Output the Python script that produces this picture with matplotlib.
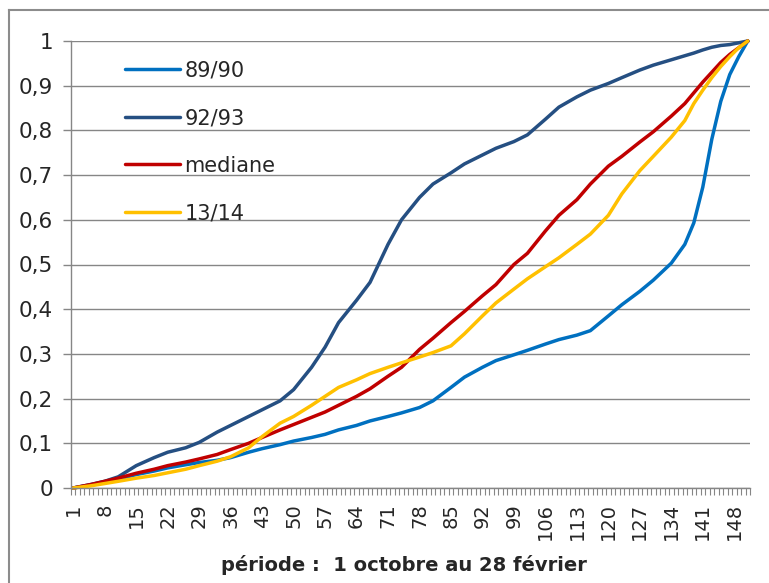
import numpy as np
import matplotlib
matplotlib.use('Agg')
import matplotlib.pyplot as plt
from matplotlib.lines import Line2D

# days of the season (1 = 1 October, 151 = 28 February)
days = [1, 5, 8, 11, 15, 19, 22, 26, 29, 33, 36, 40, 43, 47, 50, 54, 57, 60, 64, 67,
        71, 74, 78, 81, 85, 88, 92, 95, 99, 102, 106, 109, 113, 116, 120, 123, 127, 130,
        134, 137, 139, 141, 143, 145, 147, 149, 151]

s_8990 = [0.0, 0.007, 0.014, 0.02, 0.03, 0.038, 0.045, 0.052, 0.057, 0.062, 0.068, 0.08,
          0.088, 0.097, 0.105, 0.113, 0.12, 0.13, 0.14, 0.15, 0.16, 0.168, 0.18, 0.195,
          0.225, 0.248, 0.27, 0.285, 0.298, 0.308, 0.322, 0.332, 0.342, 0.352, 0.385,
          0.41, 0.44, 0.465, 0.503, 0.545, 0.593, 0.673, 0.78, 0.865, 0.925, 0.965, 1.0]

s_9293 = [0.0, 0.008, 0.015, 0.025, 0.05, 0.068, 0.08, 0.09, 0.102, 0.125, 0.14, 0.16,
          0.175, 0.195, 0.22, 0.27, 0.315, 0.37, 0.42, 0.46, 0.545, 0.6, 0.65, 0.68,
          0.705, 0.725, 0.745, 0.76, 0.775, 0.79, 0.825, 0.852, 0.875, 0.89, 0.905,
          0.918, 0.935, 0.946, 0.958, 0.967, 0.973, 0.98, 0.986, 0.99, 0.992, 0.996, 1.0]

s_mediane = [0.0, 0.008, 0.015, 0.022, 0.033, 0.042, 0.05, 0.058, 0.065, 0.075, 0.086, 0.1,
             0.113, 0.13, 0.142, 0.158, 0.17, 0.185, 0.205, 0.222, 0.25, 0.27, 0.31, 0.335,
             0.37, 0.395, 0.43, 0.455, 0.5, 0.525, 0.575, 0.61, 0.645, 0.68, 0.72, 0.742,
             0.774, 0.797, 0.832, 0.86, 0.884, 0.908, 0.93, 0.952, 0.97, 0.985, 1.0]

s_1314 = [0.0, 0.005, 0.01, 0.015, 0.022, 0.028, 0.034, 0.042, 0.05, 0.06, 0.07, 0.09,
          0.115, 0.145, 0.16, 0.185, 0.205, 0.225, 0.242, 0.256, 0.27, 0.28, 0.293, 0.303,
          0.318, 0.345, 0.385, 0.414, 0.445, 0.468, 0.495, 0.515, 0.545, 0.568, 0.61,
          0.658, 0.71, 0.742, 0.785, 0.822, 0.86, 0.89, 0.918, 0.943, 0.965, 0.985, 1.0]

labels = ['89/90', '92/93', 'mediane', '13/14']
colors = ['#0070C0', '#254F82', '#C00000', '#FFC000']
tick_days = list(range(1, 152, 7))
ytick_labels = ['0', '0,1', '0,2', '0,3', '0,4', '0,5', '0,6', '0,7', '0,8', '0,9', '1']

plt.rcParams['font.family'] = ['DejaVu Sans']
grey = '#868686'

fig = plt.figure(figsize=(7.69, 5.83), dpi=100)
ax = fig.add_axes([71 / 769, 1 - 488 / 583, 679 / 769, 447 / 583])

for vals, lab, col in zip([s_8990, s_9293, s_mediane, s_1314], labels, colors):
    ax.plot(days, vals, color=col, lw=2.5, label=lab, clip_on=False,
            solid_capstyle='round', solid_joinstyle='round')

ax.set_xlim(0.5, 151.5)
ax.set_ylim(0, 1)

ax.set_yticks(np.linspace(0, 1, 11))
ax.set_yticklabels(ytick_labels, color='#262626')
ax.set_xticks(tick_days)
ax.set_xticklabels([str(d) for d in tick_days], rotation=90, color='#262626')
ax.set_xticks(np.arange(0.5, 152, 1), minor=True)

ax.tick_params(axis='y', length=6, width=1, color=grey, labelsize=15.5, pad=7)
ax.tick_params(axis='x', which='major', length=0, labelsize=14, pad=11)
ax.tick_params(axis='x', which='minor', length=5, width=0.8, color=grey)

ax.yaxis.grid(True, color=grey, lw=1)
ax.set_axisbelow(True)
for side in ['top', 'right']:
    ax.spines[side].set_visible(False)
for side in ['left', 'bottom']:
    ax.spines[side].set_color(grey)
    ax.spines[side].set_linewidth(1)

ax.set_xlabel('période :  1 octobre au 28 février', fontweight='bold', fontsize=14,
              color='#262626')
ax.xaxis.set_label_coords(0.49, -0.15)

ax.legend(loc='upper left', bbox_to_anchor=(0.0795, 0.956), frameon=False,
          fontsize=15, handlelength=2.65, handletextpad=0.2, labelspacing=1.32,
          borderaxespad=0, borderpad=0, labelcolor='#262626')

# outer chart frame (only top and left edges are inside the picture)
fig.add_artist(Line2D([9 / 769, 1], [1 - 10 / 583] * 2, transform=fig.transFigure,
                      color='#8c8c8c', lw=1.5))
fig.add_artist(Line2D([9 / 769] * 2, [0, 1 - 10 / 583], transform=fig.transFigure,
                      color='#8c8c8c', lw=1.5))

fig.savefig('out.png', dpi=100)
